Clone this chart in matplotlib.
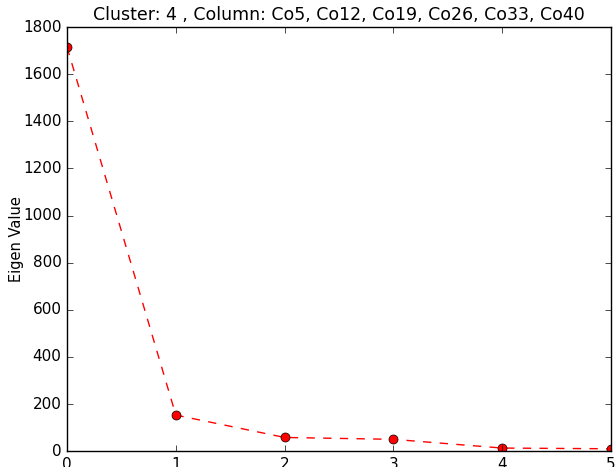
import matplotlib
matplotlib.use("Agg")
import matplotlib.pyplot as plt

plt.style.use("classic")

components = [0, 1, 2, 3, 4, 5]
eigen_values = [1715, 153, 58, 50, 13, 10]

fig = plt.figure(figsize=(6.15, 4.67), dpi=100)
ax = fig.add_axes([0.109, 0.034, 0.8845, 0.908])
ax.plot(components, eigen_values, "r--o", markersize=6.5)
ax.set_xlim(0, 5)
ax.set_ylim(0, 1800)
ax.set_ylabel("Eigen Value", fontsize=10.5, labelpad=-1)
ax.set_title("Cluster: 4 , Column: Co5, Co12, Co19, Co26, Co33, Co40", fontsize=12.5)
ax.tick_params(labelsize=11)

fig.savefig("out.png", dpi=100)
